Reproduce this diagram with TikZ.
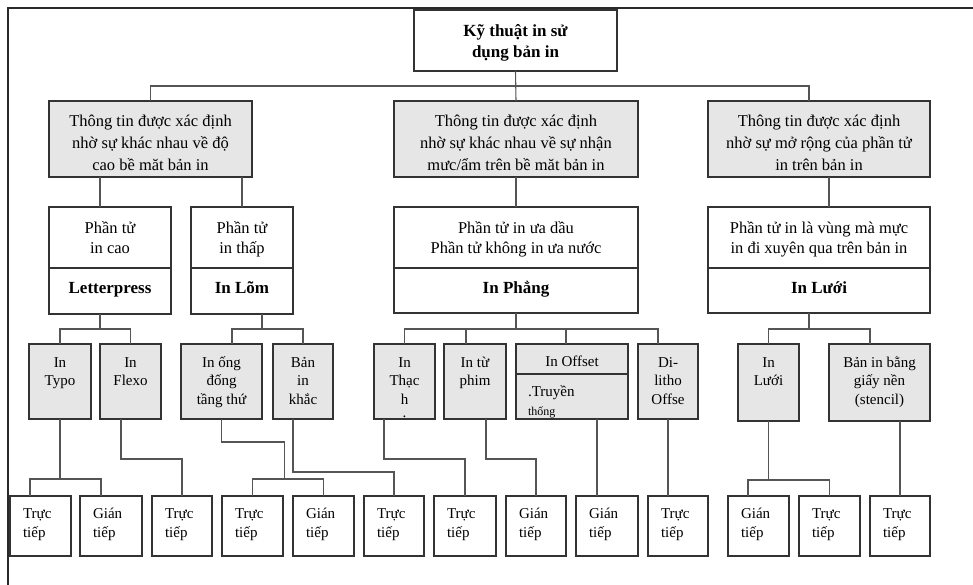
\documentclass[tikz,border=0pt]{standalone}
\usepackage{fontspec}
\setmainfont{Liberation Serif}
\definecolor{boxline}{HTML}{333333}
\definecolor{boxfill}{HTML}{E6E6E6}
\definecolor{connline}{HTML}{555555}
\definecolor{frameline}{HTML}{2A2A2A}
\tikzset{
  bx/.style={draw=boxline, line width=1.1pt, inner sep=0pt, outer sep=0pt},
  gbx/.style={bx, fill=boxfill},
  wbx/.style={bx, fill=white},
  conn/.style={draw=connline, line width=1.1pt},
  txtbase/.style={inner sep=0pt, outer sep=0pt, text=black},
  txttop/.style={txtbase, align=center, anchor=north, font=\bfseries\fontsize{17}{21}\selectfont},
  txtgray/.style={txtbase, align=center, anchor=north, font=\fontsize{16.5}{22}\selectfont},
  txtup/.style={txtbase, align=center, anchor=north, font=\fontsize{16.5}{20.5}\selectfont},
  txtbold/.style={txtbase, anchor=base, font=\bfseries\fontsize{17}{21}\selectfont},
  txtsm/.style={txtbase, align=center, anchor=north, font=\fontsize{15}{18.5}\selectfont},
  txtleaf/.style={txtbase, align=left, anchor=north west, font=\fontsize{15}{19}\selectfont},
}
\newcommand{\mybox}[6]{\node[#1, anchor=north west, minimum width={(#5-#3)*1pt}, minimum height={(#6-#4)*1pt}] (#2) at (#3,#4) {};}
\newcommand{\vstr}{\rule{0pt}{15pt}}
\begin{document}
\begin{tikzpicture}[x=1pt,y=-1pt]
\useasboundingbox (0,0) rectangle (973,585);
% frame
\coordinate (fTL) at (8,8);
\coordinate (fTR) at (973,8);
\coordinate (fBL) at (8,585);
\draw[draw=frameline, line width=2.2pt] (fTR) -- (fTL) -- (fBL);

% level 1
\mybox{wbx}{top}{414}{10}{617}{71}
% level 2
\mybox{gbx}{g1}{49}{101}{252}{177}
\mybox{gbx}{g2}{394}{101}{638}{177}
\mybox{gbx}{g3}{708}{101}{930}{177}
% level 3
\mybox{wbx}{lpT}{49}{207}{171}{268}
\mybox{wbx}{lpB}{49}{268}{171}{314}
\mybox{wbx}{lomT}{191}{207}{293}{268}
\mybox{wbx}{lomB}{191}{268}{293}{314}
\mybox{wbx}{phT}{394}{207}{638}{268}
\mybox{wbx}{phB}{394}{268}{638}{313}
\mybox{wbx}{luoiT}{708}{207}{930}{268}
\mybox{wbx}{luoiB}{708}{268}{930}{313}
% level 4
\mybox{gbx}{typo}{29}{344}{91}{419}
\mybox{gbx}{flexo}{100}{344}{161}{419}
\mybox{gbx}{ong}{181}{344}{262}{419}
\mybox{gbx}{khac}{273}{344}{333}{419}
\mybox{gbx}{thach}{374}{344}{435}{419}
\mybox{gbx}{phim}{444}{344}{506}{419}
\mybox{gbx}{offT}{516}{344}{628}{374}
\mybox{gbx}{offB}{516}{374}{628}{419}
\mybox{gbx}{dili}{638}{344}{698}{419}
\mybox{gbx}{luoiS}{738}{344}{799}{421}
\mybox{gbx}{sten}{829}{344}{930}{421}
% level 5
\mybox{wbx}{b1}{10}{496}{71}{556}
\mybox{wbx}{b2}{80}{496}{142}{556}
\mybox{wbx}{b3}{152}{496}{212}{556}
\mybox{wbx}{b4}{222}{496}{283}{556}
\mybox{wbx}{b5}{293}{496}{354}{556}
\mybox{wbx}{b6}{364}{496}{424}{556}
\mybox{wbx}{b7}{434}{496}{496}{556}
\mybox{wbx}{b8}{506}{496}{566}{556}
\mybox{wbx}{b9}{576}{496}{638}{556}
\mybox{wbx}{b10}{648}{496}{708}{556}
\mybox{wbx}{b11}{728}{496}{789}{556}
\mybox{wbx}{b12}{799}{496}{860}{556}
\mybox{wbx}{b13}{870}{496}{930}{556}

% texts
\node[txttop] (topT) at ([yshift=-12pt]top.north) {\vstr Kỹ thuật in sử\\dụng bản in};
\node[txtgray] (g1T) at ([yshift=-11pt]g1.north) {\vstr Thông tin được xác định\\nhờ sự khác nhau về độ\\cao bề măt bản in};
\node[txtgray] (g2T) at ([yshift=-11pt]g2.north) {\vstr Thông tin được xác định\\nhờ sự khác nhau về sự nhận\\mưc/ẩm trên bề măt bản in};
\node[txtgray] (g3T) at ([yshift=-11pt]g3.north) {\vstr Thông tin được xác định\\nhờ sự mở rộng của phần tử\\in trên bản in};
\node[txtup] (lpTT) at ([yshift=-11pt]lpT.north) {\vstr Phần tử\\in cao};
\node[txtup] (lomTT) at ([yshift=-11pt]lomT.north) {\vstr Phần tử\\in thấp};
\node[txtup] (phTT) at ([yshift=-11pt]phT.north) {\vstr Phần tử in ưa dầu\\Phần tử không in ưa nước};
\node[txtup] (luoiTT) at ([yshift=-11pt]luoiT.north) {\vstr Phần tử in là vùng mà mực\\in đi xuyên qua trên bản in};
\node[txtbold] (lpBT) at ([yshift=-25pt]lpB.north) {Letterpress};
\node[txtbold] (lomBT) at ([yshift=-25pt]lomB.north) {In Lõm};
\node[txtbold] (phBT) at ([yshift=-25pt]phB.north) {In Phẳng};
\node[txtbold] (luoiBT) at ([yshift=-25pt]luoiB.north) {In Lưới};

\node[txtsm] (typoT) at ([yshift=-8pt]typo.north) {\vstr In\\Typo};
\node[txtsm] (flexoT) at ([yshift=-8pt]flexo.north) {\vstr In\\Flexo};
\node[txtsm] (ongT) at ([yshift=-8pt]ong.north) {\vstr In ống\\đống\\tầng thứ};
\node[txtsm] (khacT) at ([yshift=-8pt]khac.north) {\vstr Bản\\in\\khắc};
\begin{scope}
  \clip (thach.north west) rectangle (thach.south east);
  \node[txtsm] (thachT) at ([yshift=-8pt]thach.north) {\vstr In\\Thạc\\h};
  \node[txtbase, anchor=base, font=\fontsize{15}{18.5}\selectfont] (thachDot) at ([yshift=-73pt]thach.north) {.};
\end{scope}
\node[txtsm] (phimT) at ([yshift=-8pt]phim.north) {\vstr In từ\\phim};
\node[txtsm] (offTT) at ([yshift=-7pt]offT.north) {\vstr In Offset};
\begin{scope}
  \clip (offB.north west) rectangle (offB.south east);
  \node[txtleaf, anchor=base west] (offBT) at ([xshift=12pt,yshift=-22pt]offB.north west) {.Truyền};
  \node[txtbase, anchor=base west, font=\fontsize{12}{14}\selectfont] (offBT2) at ([xshift=12pt,yshift=-41pt]offB.north west) {thống};
\end{scope}
\node[txtsm] (diliT) at ([yshift=-8pt]dili.north) {\vstr Di-\\litho\\Offse};
\node[txtsm] (luoiST) at ([yshift=-8pt]luoiS.north) {\vstr In\\Lưới};
\node[txtsm] (stenT) at ([yshift=-8pt]sten.north) {\vstr Bản in bằng\\giấy nền\\(stencil)};

\node[txtleaf] (b1T) at ([xshift=13pt,yshift=-7pt]b1.north west) {\vstr Trực\\tiếp};
\node[txtleaf] (b2T) at ([xshift=13pt,yshift=-7pt]b2.north west) {\vstr Gián\\tiếp};
\node[txtleaf] (b3T) at ([xshift=13pt,yshift=-7pt]b3.north west) {\vstr Trực\\tiếp};
\node[txtleaf] (b4T) at ([xshift=13pt,yshift=-7pt]b4.north west) {\vstr Trực\\tiếp};
\node[txtleaf] (b5T) at ([xshift=13pt,yshift=-7pt]b5.north west) {\vstr Gián\\tiếp};
\node[txtleaf] (b6T) at ([xshift=13pt,yshift=-7pt]b6.north west) {\vstr Trực\\tiếp};
\node[txtleaf] (b7T) at ([xshift=13pt,yshift=-7pt]b7.north west) {\vstr Trực\\tiếp};
\node[txtleaf] (b8T) at ([xshift=13pt,yshift=-7pt]b8.north west) {\vstr Gián\\tiếp};
\node[txtleaf] (b9T) at ([xshift=13pt,yshift=-7pt]b9.north west) {\vstr Gián\\tiếp};
\node[txtleaf] (b10T) at ([xshift=13pt,yshift=-7pt]b10.north west) {\vstr Trực\\tiếp};
\node[txtleaf] (b11T) at ([xshift=13pt,yshift=-7pt]b11.north west) {\vstr Gián\\tiếp};
\node[txtleaf] (b12T) at ([xshift=13pt,yshift=-7pt]b12.north west) {\vstr Trực\\tiếp};
\node[txtleaf] (b13T) at ([xshift=13pt,yshift=-7pt]b13.north west) {\vstr Trực\\tiếp};

% connectors level 1-2
\draw[conn] (top.south) -- (g2.north);
\draw[conn] (g1.north) -- ++(0,-15) -| ([xshift=-10pt]g3.north);
% level 2-3
\draw[conn] ([xshift=-10pt]lpT.north) -- ++(0,-30);
\draw[conn] (lomT.north) -- ++(0,-30);
\draw[conn] (g2.south) -- (phT.north);
\draw[conn] ([xshift=10pt]luoiT.north) -- ++(0,-30);
% level 3-4
\draw[conn] ([xshift=-10pt]lpB.south) -- ++(0,15);
\draw[conn] (typo.north) -- ++(0,-15) -| (flexo.north);
\draw[conn] ([xshift=20pt]lomB.south) -- ++(0,15);
\draw[conn] ([xshift=10.5pt]ong.north) -- ++(0,-15) -| (khac.north);
\draw[conn] (phB.south) -- ++(0,16);
\draw[conn] (thach.north) -- ++(0,-15) -| ([xshift=-10pt]dili.north);
\draw[conn] ([xshift=-9pt]phim.north) -- ++(0,-15);
\draw[conn] ([xshift=-6pt]offT.north) -- ++(0,-15);
\draw[conn] ([xshift=-10pt]luoiB.south) -- ++(0,16);
\draw[conn] (luoiS.north) -- ++(0,-15) -| ([xshift=-9.5pt]sten.north);
% level 4-5
\draw[conn] (typo.south) -- ++(0,60);
\draw[conn] ([xshift=-10.5pt]b1.north) -- ++(0,-17) -| ([xshift=-10pt]b2.north);
\draw[conn] ([xshift=-9.5pt]flexo.south) -- ++(0,40) -| (b3.north);
\draw[conn] (ong.south) -- ++(0,23) -- ++(63,0) -- ++(0,37);
\draw[conn] (b4.north) -- ++(0,-17) -| (b5.north);
\draw[conn] ([xshift=-10pt]khac.south) -- ++(0,53) -| (b6.north);
\draw[conn] ([xshift=-20.5pt]thach.south) -- ++(0,40) -| (b7.north);
\draw[conn] ([xshift=11pt]phim.south) -- ++(0,40) -| (b8.north);
\draw[conn] ([xshift=25pt]offB.south) -- ([xshift=-10pt]b9.north);
\draw[conn] (dili.south) -- ([xshift=-10pt]b10.north);
\draw[conn] (luoiS.south) -- ++(0,59);
\draw[conn] ([xshift=-10.5pt]b11.north) -- ++(0,-16) -| (b12.north);
\draw[conn] ([xshift=20.5pt]sten.south) -- (b13.north);
\end{tikzpicture}
\end{document}
